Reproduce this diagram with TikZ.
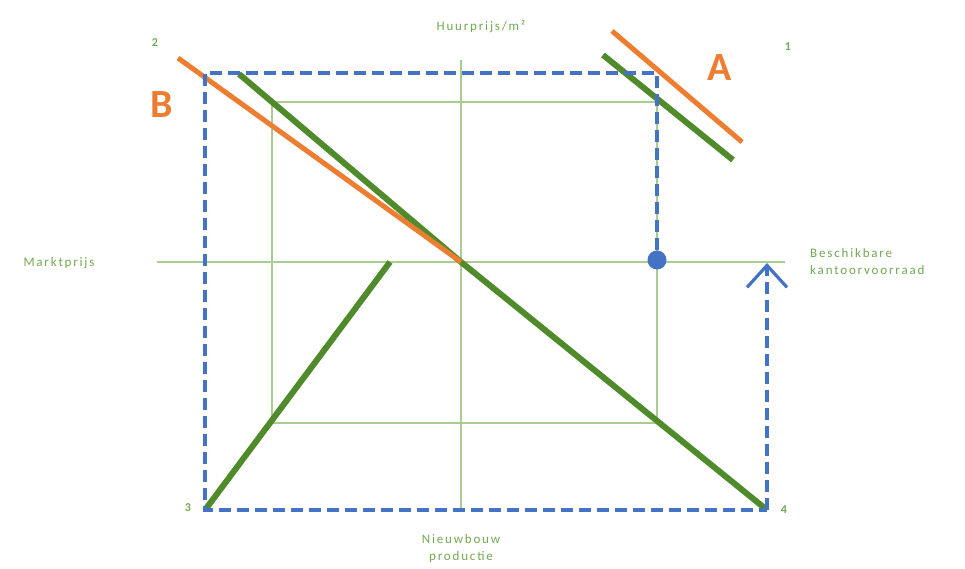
\documentclass[tikz,border=0pt]{standalone}
\usepackage{fontspec}
\setmainfont{Carlito}
\newfontfamily\lblfont[LetterSpace=14]{Carlito}
\usetikzlibrary{arrows.meta}
\definecolor{axgreen}{HTML}{A9CC90}
\definecolor{txtgreen}{HTML}{72A852}
\definecolor{dkgreen}{HTML}{4F8A2B}
\definecolor{myorange}{HTML}{ED7D31}
\definecolor{myblue}{HTML}{4472C4}
\tikzset{
  axis/.style={draw=axgreen, line width=1.6pt},
  thick green/.style={draw=dkgreen, line width=6pt},
  orangeline/.style={draw=myorange, line width=5pt},
  bluedash/.style={draw=myblue, line width=3.2pt, dash pattern=on 12pt off 6pt},
  lbl/.style={text=txtgreen, font=\lblfont\fontsize{13}{17}\selectfont, inner sep=0pt},
  num/.style={text=txtgreen, font=\bfseries\fontsize{12}{14}\selectfont, inner sep=0pt},
  big/.style={text=myorange, font=\bfseries\fontsize{40}{44}\selectfont, inner sep=0pt}
}
\begin{document}
\begin{tikzpicture}[x=1pt,y=-1pt]
\useasboundingbox (0,0) rectangle (965,569);
% coordinates
\coordinate (O) at (461,262);
\coordinate (axL) at (157,262);
\coordinate (axR) at (785,262);
\coordinate (axT) at (461,60);
\coordinate (axB) at (461,510);
\coordinate (r1) at (272,102);
\coordinate (r2) at (657,423);
\coordinate (dTL) at (205,73);
\coordinate (dTR) at (657,73);
\coordinate (dBL) at (205,510);
\coordinate (dBR) at (767,510);
\coordinate (arT) at (767,263);
% axes and thin rectangle
\draw[axis] (axL) -- (axR);
\draw[axis] (axT) -- (axB);
\draw[axis] (r1) rectangle (r2);
% thick green lines
\draw[thick green] (239,74) -- (O) -- (dBR);
\draw[thick green] (dBL) -- (390,262);
\draw[thick green] (603,55) -- (733,160);
% orange lines
\draw[orangeline] (178,58) -- (O);
\draw[orangeline] (612,31) -- (742,142);
% blue dashed
\node[circle, fill=myblue, minimum size=19pt, inner sep=0pt] (dot) at (657,260) {};
\draw[bluedash] (dot.north) -- (dTR) -- (dTL) -- (dBL) -- (dBR);
\draw[bluedash, -{Straight Barb[length=22pt,width=40pt,line width=3.2pt]}] (dBR) -- (arT);
% labels
\node[big] (A) at (720,68) {A};
\node[big] (B) at (162,105) {B};
\node[num] (n1) at (788,47) {1};
\node[num] (n2) at (155,43) {2};
\node[num] (n3) at (188,508) {3};
\node[num] (n4) at (784,510) {4};
\node[lbl] (hp) at (481,27) {Huurprijs/m²};
\node[lbl] (mp) at (59,263) {Marktprijs};
\node[lbl, anchor=west, align=left] (bk) at (810,262) {Beschikbare\\kantoorvoorraad};
\node[lbl, align=center] (np) at (461,549) {Nieuwbouw\\productie};
\end{tikzpicture}
\end{document}
